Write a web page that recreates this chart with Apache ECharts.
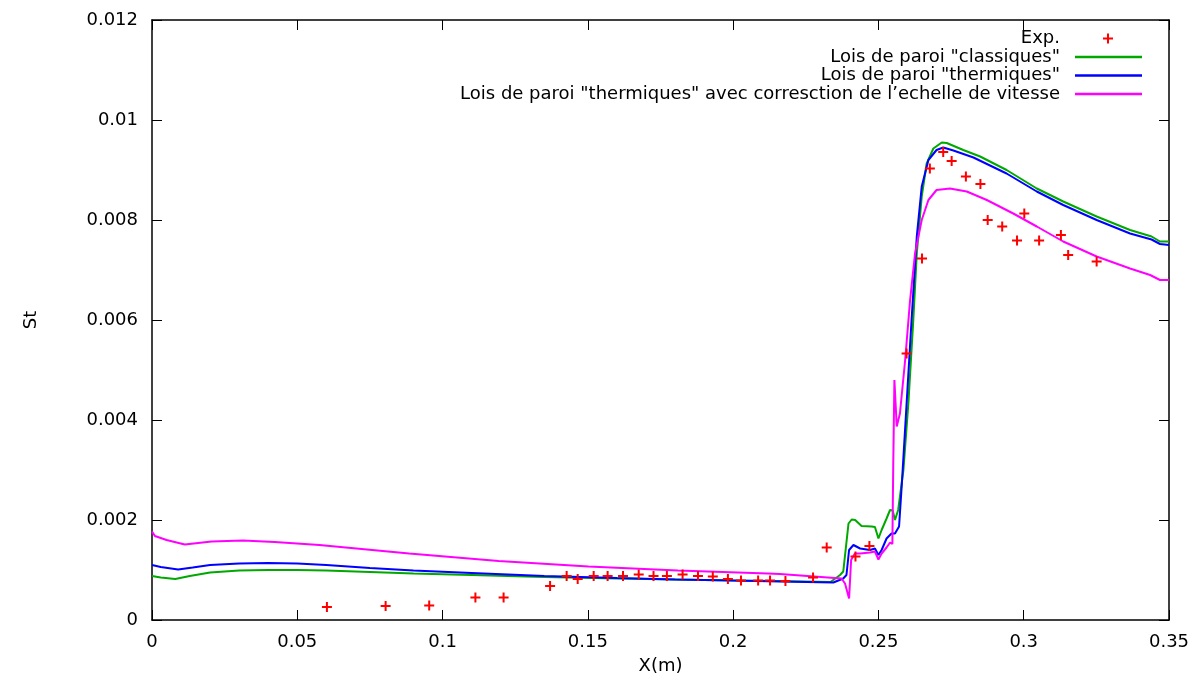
<!DOCTYPE html>
<html lang="fr">
<head>
	<meta charset="utf-8"/>
	<title>St - lois de paroi</title>
	<script src="https://cdn.jsdelivr.net/npm/echarts@6/dist/echarts.min.js"></script>
	<style>
		html, body { margin: 0; padding: 0; background: #fff; }
		#chart { width: 1202px; height: 683px; }
	</style>
</head>
<body>
<div id="chart"></div>
<script type="text/javascript">
	// tick labels / axes
	var xTicks = [0, 0.05, 0.1, 0.15, 0.2, 0.25, 0.3, 0.35];
	var yTicks = [0, 0.002, 0.004, 0.006, 0.008, 0.01, 0.012];
	var names = ['Exp.', 'Lois de paroi "classiques"', 'Lois de paroi "thermiques"',
		'Lois de paroi "thermiques" avec corresction de l\u2019echelle de vitesse'];

	// Exp. points [X(m), St]
	var expData = [
		[0.0602, 0.00026], [0.0804, 0.00028], [0.0954, 0.00029], [0.1113, 0.00045], [0.121, 0.00045],
		[0.137, 0.00068], [0.1427, 0.00088], [0.1465, 0.00082], [0.152, 0.00088], [0.1568, 0.00088],
		[0.1621, 0.00088], [0.1675, 0.00091], [0.1726, 0.00088], [0.1772, 0.00088], [0.1826, 0.00091],
		[0.1879, 0.00088], [0.193, 0.00087], [0.1982, 0.00082], [0.2027, 0.00079], [0.2086, 0.00079],
		[0.2127, 0.00079], [0.218, 0.00078], [0.2275, 0.00085], [0.2322, 0.00145], [0.2421, 0.00127],
		[0.2469, 0.00148], [0.2597, 0.00533], [0.265, 0.00723], [0.2677, 0.00903], [0.2723, 0.00936],
		[0.2752, 0.00918], [0.2801, 0.00887], [0.2851, 0.00872], [0.2876, 0.0080], [0.2926, 0.00787],
		[0.2977, 0.00759], [0.3002, 0.00813], [0.3053, 0.00759], [0.3128, 0.0077], [0.3153, 0.0073],
		[0.3251, 0.00717]
	];

	// lois de paroi "classiques"
	var classiquesData = [
		[0, 0.00088], [0.003, 0.00085], [0.008, 0.00082], [0.013, 0.00088], [0.02, 0.00095], [0.03, 0.00099],
		[0.04, 0.001], [0.05, 0.001], [0.06, 0.00099], [0.075, 0.00096], [0.09, 0.00093], [0.11, 0.0009],
		[0.135, 0.00086], [0.16, 0.00083], [0.18, 0.00081], [0.2, 0.00079], [0.215, 0.00078], [0.2335, 0.00076],
		[0.2368, 0.0009], [0.2379, 0.00097], [0.2397, 0.00193], [0.2408, 0.00201], [0.242, 0.002],
		[0.2442, 0.00188], [0.2477, 0.00187], [0.2488, 0.00186], [0.25, 0.00163], [0.2511, 0.0018],
		[0.2528, 0.00203], [0.254, 0.0022], [0.2549, 0.00219], [0.2557, 0.002], [0.2568, 0.0022],
		[0.2586, 0.003], [0.2603, 0.00433], [0.262, 0.006], [0.2632, 0.00733], [0.2649, 0.00847],
		[0.2666, 0.00913], [0.2689, 0.00943], [0.2718, 0.00955], [0.2735, 0.00954], [0.2792, 0.0094],
		[0.285, 0.00927], [0.2941, 0.009], [0.3045, 0.00863], [0.3136, 0.00837], [0.3251, 0.00807],
		[0.3366, 0.0078], [0.344, 0.00767], [0.3469, 0.00757], [0.35, 0.00757]
	];

	// lois de paroi "thermiques"
	var thermiquesData = [
		[0, 0.0011], [0.003, 0.00106], [0.009, 0.00101], [0.014, 0.00105], [0.02, 0.0011], [0.03, 0.00113],
		[0.04, 0.00114], [0.05, 0.00113], [0.06, 0.0011], [0.075, 0.00104], [0.09, 0.00099], [0.11, 0.00094],
		[0.135, 0.00088], [0.16, 0.00084], [0.18, 0.00081], [0.2, 0.00079], [0.216, 0.00077], [0.2345, 0.00075],
		[0.2379, 0.00083], [0.239, 0.0009], [0.2399, 0.0014], [0.2414, 0.0015], [0.2437, 0.00143],
		[0.2471, 0.0014], [0.2488, 0.00143], [0.25, 0.0013], [0.2511, 0.0014], [0.2528, 0.00163],
		[0.2545, 0.00173], [0.2557, 0.00173], [0.2571, 0.00187], [0.258, 0.00267], [0.2597, 0.00433],
		[0.2614, 0.006], [0.2632, 0.00767], [0.2649, 0.00867], [0.2672, 0.0092], [0.27, 0.0094],
		[0.2723, 0.00945], [0.2758, 0.00939], [0.2827, 0.00925], [0.2941, 0.00893], [0.3045, 0.00857],
		[0.3136, 0.0083], [0.3251, 0.008], [0.3366, 0.00773], [0.344, 0.00761], [0.3469, 0.00752], [0.35, 0.0075]
	];

	// "thermiques" + correction echelle de vitesse
	var correctionData = [
		[0, 0.00177], [0.001, 0.00168], [0.005, 0.0016], [0.0113, 0.00151], [0.0205, 0.00157], [0.0313, 0.00159],
		[0.0422, 0.00156], [0.0576, 0.0015], [0.0885, 0.00133], [0.1193, 0.00118], [0.1502, 0.00107],
		[0.181, 0.00099], [0.2119, 0.00093], [0.2161, 0.00092], [0.2373, 0.00083], [0.2385, 0.00073],
		[0.2399, 0.00043], [0.2406, 0.0012], [0.2419, 0.00133], [0.2437, 0.00133], [0.2471, 0.00135],
		[0.2488, 0.00137], [0.25, 0.00121], [0.2511, 0.00133], [0.2528, 0.00145], [0.254, 0.00155],
		[0.2548, 0.00152], [0.2551, 0.0031], [0.2555, 0.0048], [0.2563, 0.00387], [0.2574, 0.00413],
		[0.2592, 0.0052], [0.2609, 0.0064], [0.2626, 0.00733], [0.2649, 0.008], [0.2672, 0.0084],
		[0.27, 0.0086], [0.2746, 0.00863], [0.2804, 0.00857], [0.2873, 0.0084], [0.2964, 0.00813],
		[0.3045, 0.00787], [0.3136, 0.00757], [0.3251, 0.00727], [0.3366, 0.00703], [0.3435, 0.0069],
		[0.3469, 0.0068], [0.35, 0.0068]
	];

	var colors = ['#ff0000', '#00a800', '#0000ff', '#ff00ff'];
	var plusIcon = 'path://M4,0h2v4h4v2h-4v4h-2v-4h-4v-2h4z';
	var font = 'DejaVu Sans';
	var fs = 18;

	var chart = echarts.init(document.getElementById('chart'));

	function axisCommon(show) {
		return {
			axisLine: { show: true, onZero: false, lineStyle: { color: '#000', width: 1.5 } },
			axisTick: { show: true, inside: true, length: 10, lineStyle: { color: '#000', width: 1 } },
			axisLabel: { show: show, color: '#000', fontFamily: font, fontSize: fs },
			splitLine: { show: false }
		};
	}

	var xBottom = axisCommon(true);
	xBottom.type = 'value'; xBottom.position = 'bottom';
	xBottom.min = xTicks[0]; xBottom.max = xTicks[xTicks.length - 1]; xBottom.interval = 0.05;
	xBottom.axisLabel.margin = 13;
	xBottom.name = 'X(m)'; xBottom.nameLocation = 'middle'; xBottom.nameGap = 37;
	xBottom.nameTextStyle = { color: '#000', fontFamily: font, fontSize: fs };

	var xTop = axisCommon(false);
	xTop.type = 'value'; xTop.position = 'top';
	xTop.min = xTicks[0]; xTop.max = xTicks[xTicks.length - 1]; xTop.interval = 0.05;

	var yLeft = axisCommon(true);
	yLeft.type = 'value'; yLeft.position = 'left';
	yLeft.min = yTicks[0]; yLeft.max = yTicks[yTicks.length - 1]; yLeft.interval = 0.002;
	yLeft.axisLabel.margin = 14;
	yLeft.name = 'St'; yLeft.nameLocation = 'middle'; yLeft.nameGap = 112;
	yLeft.nameTextStyle = { color: '#000', fontFamily: font, fontSize: fs };

	var yRight = axisCommon(false);
	yRight.type = 'value'; yRight.position = 'right';
	yRight.min = yTicks[0]; yRight.max = yTicks[yTicks.length - 1]; yRight.interval = 0.002;

	// one legend per row so the rows are right aligned like gnuplot's key
	var rowMid = [38.5, 57, 75.5, 94];
	var legends = names.map(function (n, i) {
		var isExp = i === 0;
		return {
			data: [{ name: n, icon: isExp ? plusIcon : 'rect' }],
			orient: 'vertical',
			align: 'right',
			right: isExp ? 89 : 60,
			top: rowMid[i] - 10,
			itemWidth: isExp ? 10 : 67,
			itemHeight: isExp ? 10 : 2.5,
			padding: 0,
			selectedMode: false,
			textStyle: {
				color: '#000', fontFamily: font, fontSize: fs, lineHeight: 20,
				padding: isExp ? [0, 38, 0, 0] : [0, 10, 0, 0]
			}
		};
	});

	var option = {
		animation: false,
		backgroundColor: '#fff',
		color: colors,
		grid: { left: 152, right: 33, top: 20, bottom: 63, containLabel: false },
		legend: legends,
		xAxis: [xBottom, xTop],
		yAxis: [yLeft, yRight],
		series: [
			{
				name: names[0], type: 'scatter', data: expData,
				symbol: plusIcon, symbolSize: 10,
				itemStyle: { color: colors[0], opacity: 1 }, z: 3
			},
			{
				name: names[1], type: 'line', data: classiquesData, symbol: 'none',
				lineStyle: { color: colors[1], width: 2 }, itemStyle: { color: colors[1] }, z: 2
			},
			{
				name: names[2], type: 'line', data: thermiquesData, symbol: 'none',
				lineStyle: { color: colors[2], width: 2 }, itemStyle: { color: colors[2] }, z: 2
			},
			{
				name: names[3], type: 'line', data: correctionData, symbol: 'none',
				lineStyle: { color: colors[3], width: 2 }, itemStyle: { color: colors[3] }, z: 2
			}
		]
	};

	chart.setOption(option);
</script>
</body>
</html>
